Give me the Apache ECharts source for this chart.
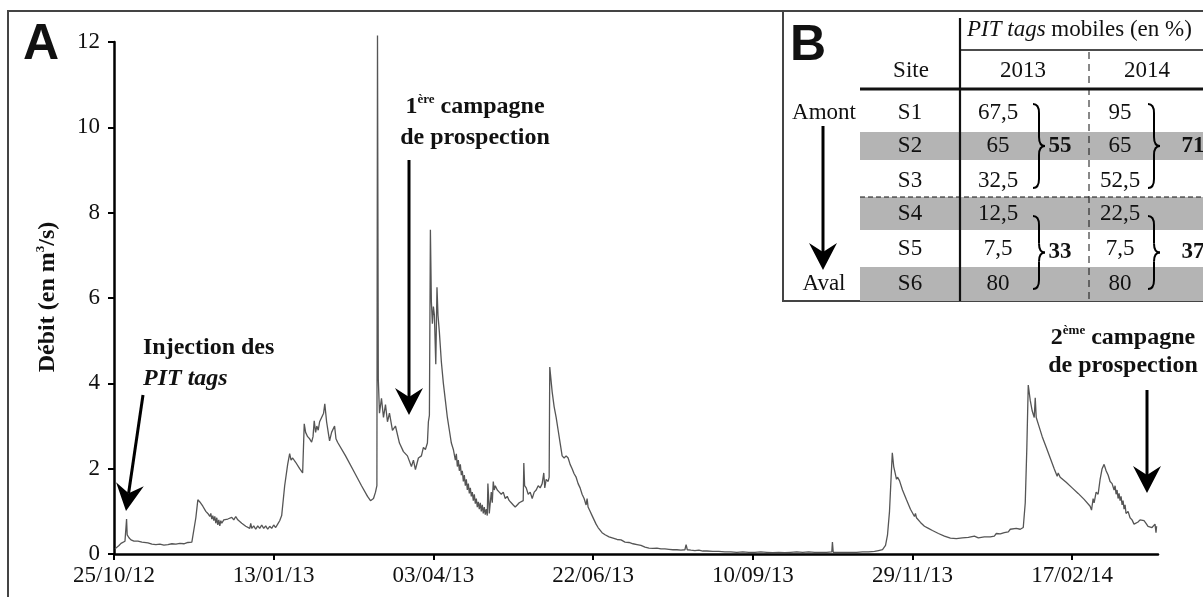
<!DOCTYPE html>
<html>
<head>
<meta charset="utf-8">
<script src="https://cdn.jsdelivr.net/npm/echarts@6/dist/echarts.min.js"></script>
<style>
  html, body { margin: 0; padding: 0; background: #fff; }
  #chart { width: 1203px; height: 597px; }
</style>
</head>
<body>
<div id="chart"></div>
<script>
// débit journalier, jours comptés depuis le 25/10/12
const hiver2012 = [
  [0.5,0.12],[1.5,0.15],[2.5,0.2],[3.5,0.25],[4.5,0.23],[5.5,0.3],[6.0,0.3],[6.3,0.82],[6.6,0.45],
  [7.5,0.38],[8.5,0.33],[10,0.3],[11,0.27],[12,0.3],[13,0.26],[14,0.28],[15,0.25],[17,0.26],[19,0.23],
  [21,0.22],[23,0.23],[25,0.21],[27,0.22],[29,0.24],[31,0.23],[33,0.25],[35,0.24],[37,0.27],[38,0.25],
  [39,0.28],[40,0.3],[41,0.85],[42,1.27],[43,1.22],[44.5,1.12],[46,1.0],[47,0.95],[48,0.88],[48.5,0.95],
  [49,0.82],[49.5,0.9],[50,0.78],[50.5,0.88],[51,0.72],[51.5,0.85],[52,0.68],[52.5,0.8],[53,0.66],
  [53.5,0.78],[54,0.72],[55,0.8],[56,0.77],[57,0.82],[58,0.79],[59,0.86],[60,0.8],[61,0.88],[62,0.8],
  [63,0.76],[64,0.72],[65,0.68],[66,0.65],[67,0.62],[68,0.6],[68.5,0.72],[69,0.6],[70,0.66],[71,0.58],
  [72,0.66],[73,0.6],[74,0.68],[75,0.6],[76,0.66],[77,0.58],[78,0.65],[79,0.6],[80,0.68],[81,0.62],
  [82,0.7],[83,0.78],[84,0.9],[85.5,1.6],[87,2.1],[88,2.35],[88.7,2.2],[89.5,2.25],[91,2.15],[93,2.0],
  [94.5,1.9],[95.3,3.05],[96,2.85],[97,2.75],[98,2.7],[99,2.62],[99.7,2.75],[100.3,3.12],[101,2.85],
  [101.6,3.0],[102.3,2.9],[103,3.1],[104,3.2],[105,3.3],[105.6,3.52],[106.5,3.1],[107.5,2.8],[108,2.65],
  [109,2.85],[110.5,3.0],[111.2,2.7],[112,2.62],[116,2.3],[120,1.95],[124,1.6],[127,1.35],[128.5,1.25],
  [130,1.3],[131,1.45],[131.7,1.6]
];
const crue2013 = [
  [132,12.15],[132.4,4.1],[133,3.3],[134,3.65],[135,3.2],[136,3.5],[137,3.1],[138,3.3],[139.5,2.9],
  [141,3.0],[143,2.6],[145,2.4],[147,2.3],[149,2.05],[150,2.2],[151,1.98],[152.5,2.25],[154,2.3],
  [155,2.5],[156,2.45],[157,2.6],[157.5,3.1],[158,3.25],[158.5,7.6],[159,5.9],[159.5,5.4],[160,5.8],
  [160.5,5.6],[161.2,4.45],[161.8,6.25],[162.3,5.6],[163,5.2],[164,4.5],[165,4.0],[166,3.6],[167,3.2],
  [168,2.9],[169,2.6],[170,2.45],[171,2.2],[171.5,2.35],[172,2.05],[172.5,2.2],[173,1.95],[173.5,2.1],
  [174,1.85],[174.5,1.95],[175,1.7],[175.5,1.85],[176,1.6],[176.5,1.75],[177,1.5],[177.5,1.65],
  [178,1.42],[178.5,1.55],[179,1.35],[179.5,1.45],[180,1.25],[180.5,1.4],[181,1.18],[181.5,1.3],
  [182,1.1],[182.5,1.22],[183,1.05],[183.5,1.2],[184,1.0],[184.5,1.15],[185,0.95],[185.5,1.1],
  [186,0.92],[186.5,1.05],[187,0.9],[187.3,1.65],[187.7,1.3],[188,0.95],[188.5,1.2],[189,1.45],
  [189.5,1.2],[190,1.7],[190.5,1.5],[191,1.6],[192,1.5],[193,1.45],[194,1.4],[195,1.45],[196,1.3],
  [197,1.35],[198,1.25],[199,1.2],[200,1.15],[201,1.1],[202,1.15],[203,1.2],[204,1.18],[205,1.25],
  [205.3,2.13],[205.7,1.6],[206.5,1.55],[207.5,1.4],[208.5,1.45],[209.5,1.3],[210.5,1.45],[211.5,1.5],
  [212.5,1.6],[213.5,1.55],[214.5,1.65],[215.3,1.9],[215.8,1.55],[216.5,1.75],[217.5,1.7],[218,1.8],
  [218.3,4.38],[219.5,3.8],[220.5,3.45],[221.5,3.2],[222.5,2.9],[223.5,2.6],[224.5,2.3],[225.5,2.25],
  [226.5,2.3],[227.5,2.25],[228.5,2.1],[229.5,2.0],[230.5,1.88],[231.5,1.8],[232.5,1.65],[233.5,1.55],
  [234.5,1.4],[235.5,1.3],[236.5,1.15],[237,1.3],[237.5,1.1],[238.5,1.0],[239.5,0.9],[240.5,0.8],
  [241.5,0.7],[242.5,0.62],[243.5,0.56],[244.5,0.5],[246,0.45],[248,0.4]
];
const etiage2013 = [
  [250,0.37],[252,0.34],[254,0.33],[256,0.28],[258,0.27],[260,0.24],[262,0.22],[264,0.2],[266,0.16],
  [268,0.14],[270,0.13],[272,0.14],[274,0.12],[276,0.12],[278,0.11],[280,0.1],[282,0.1],[284,0.09],
  [286,0.1],[286.6,0.22],[287.2,0.1],[289,0.09],[291,0.08],[293,0.09],[295,0.07],[297,0.07],[300,0.06],
  [303,0.06],[306,0.05],[309,0.05],[312,0.04],[315,0.05],[318,0.04],[321,0.04],[324,0.05],[327,0.04],
  [330,0.03],[333,0.04],[336,0.03],[339,0.04],[342,0.05],[345,0.04],[348,0.05],[351,0.04],[354,0.04],
  [357,0.04],[359.6,0.05],[359.9,0.28],[360.3,0.04],[363,0.04],[366,0.04],[369,0.04],[372,0.04],
  [375,0.05],[378,0.05],[381,0.06],[383,0.08],[385,0.1]
];
const hiver2014 = [
  [386.5,0.2],[387.5,0.45],[388.5,1.0],[389.3,1.8],[389.9,2.37],[390.6,2.05],[391.3,1.9],[392,1.75],
  [392.5,1.8],[393.5,1.72],[395,1.5],[397,1.27],[399,1.05],[401,0.88],[401.5,0.95],[402,0.85],
  [404,0.74],[406,0.65],[408,0.6],[410,0.55],[413,0.48],[416,0.42],[419,0.37],[422,0.36],[425,0.38],
  [428,0.39],[431,0.42],[433,0.38],[436,0.4],[439,0.4],[441,0.42],[442,0.48],[444,0.47],[446,0.5],
  [448,0.52],[449,0.58],[450,0.54],[452,0.6],[454,0.58],[455.5,0.62],[456.5,1.2],[457.3,2.5],[458,3.96],
  [459,3.6],[460,3.35],[461,3.2],[461.5,3.66],[462,3.2],[463,3.05],[465,2.75],[467,2.5],[469,2.25],
  [471,2.0],[472.5,1.82],[473,1.9],[474,1.8],[477,1.68],[480,1.55],[483,1.42],[486,1.28],[489,1.12],
  [489.7,1.03],[490.5,1.3],[491,1.2],[492,1.45],[493,1.4],[494,1.75],[495,2.0],[496,2.1],[497,1.95],
  [498,1.85],[499,1.7],[500,1.65],[501,1.5],[501.5,1.6],[502,1.4],[502.5,1.5],[503,1.3],[503.5,1.42],
  [504,1.25],[504.5,1.35],[505,1.15],[505.5,1.25],[506,1.05],[506.5,1.15],[507,0.95],[508,1.0],
  [509,0.85],[510,0.8],[511,0.7],[512,0.72],[513,0.75],[514,0.8],[515,0.82],[516,0.78],[517,0.72],
  [518,0.65],[519,0.68],[520,0.62],[521,0.58],[521.5,0.7],[522,0.5],[522.3,0.65]
];
const tickDays = [0, 80, 160, 240, 320, 400, 480];
const yTicks = [0, 2, 4, 6, 8, 10, 12];

// tableau B
const sites = ['S1', 'S2', 'S3', 'S4', 'S5', 'S6'];
const mobiles2013 = [67.5, 65, 32.5, 12.5, 7.5, 80];
const mobiles2014 = [95, 65, 52.5, 22.5, 7.5, 80];
const totaux2013 = [55, 33];
const totaux2014 = [71, 37];

const SERIF = '"Liberation Serif", "DejaVu Serif", serif';
const SANS = '"Liberation Sans", Arial, sans-serif';

function dayLabel (d) {
  const t = new Date(2012, 9, 25 + d);
  const p = n => (n < 10 ? '0' : '') + n;
  return p(t.getDate()) + '/' + p(t.getMonth() + 1) + '/' + String(t.getFullYear()).slice(2);
}
function fr (v) { return String(v).replace('.', ','); }

function arrow (x1, y1, x2, y2) {
  const len = Math.hypot(x2 - x1, y2 - y1);
  const ux = (x2 - x1) / len, uy = (y2 - y1) / len;
  const nx = -uy, ny = ux;
  const L = 27, W = 14, notch = 9;
  const bx = x2 - ux * L, by = y2 - uy * L;
  const mx = x2 - ux * (L - notch), my = y2 - uy * (L - notch);
  return [
    { type: 'line', z: 10, shape: { x1: x1, y1: y1, x2: mx, y2: my }, style: { stroke: '#000', lineWidth: 3 } },
    { type: 'polygon', z: 10, shape: { points: [[x2, y2], [bx + nx * W, by + ny * W], [mx, my], [bx - nx * W, by - ny * W]] }, style: { fill: '#000' } }
  ];
}

// accolade fermante faite de 4 courbes et 2 traits
function brace (x, y1, y2, w) {
  const ym = (y1 + y2) / 2, r = 9, c = x + w / 2;
  const st = { stroke: '#000', lineWidth: 2, fill: null };
  return [
    { type: 'bezierCurve', z: 10, shape: { x1: x, y1: y1, cpx1: c, cpy1: y1, x2: c, y2: y1 + r }, style: st },
    { type: 'line', z: 10, shape: { x1: c, y1: y1 + r, x2: c, y2: ym - r }, style: st },
    { type: 'bezierCurve', z: 10, shape: { x1: c, y1: ym - r, cpx1: c, cpy1: ym, x2: x + w, y2: ym }, style: st },
    { type: 'bezierCurve', z: 10, shape: { x1: x + w, y1: ym, cpx1: c, cpy1: ym, x2: c, y2: ym + r }, style: st },
    { type: 'line', z: 10, shape: { x1: c, y1: ym + r, x2: c, y2: y2 - r }, style: st },
    { type: 'bezierCurve', z: 10, shape: { x1: c, y1: y2 - r, cpx1: c, cpy1: y2, x2: x, y2: y2 }, style: st }
  ];
}

function txt (x, y, text, opts) {
  return {
    type: 'text', x: x, y: y, z: 10,
    style: Object.assign({
      text: text, fill: '#111', fontFamily: SERIF, fontSize: 23,
      textAlign: 'center', textVerticalAlign: 'middle'
    }, opts || {})
  };
}

const bold24 = { fill: '#111', fontFamily: SERIF, fontSize: 24, fontWeight: 'bold', lineHeight: 28 };
const sup = { fill: '#111', fontFamily: SERIF, fontSize: 13, fontWeight: 'bold', verticalAlign: 'top', lineHeight: 14 };

const rowY = [113, 146, 181, 214, 249, 284];
const greyBands = [[132, 160], [197, 230], [267, 301]];

let graphics = [
  // cadre général
  { type: 'rect', z: 1, shape: { x: 8, y: 11, width: 1300, height: 700 }, style: { fill: null, stroke: '#444', lineWidth: 2 } },
  txt(41, 45, 'A', { fontFamily: SANS, fontWeight: 'bold', fontSize: 50 }),
  {
    type: 'text', x: 48, y: 297, rotation: Math.PI / 2, z: 10,
    style: { text: '{b|Débit (en m}{s|3}{b|/s)}', textAlign: 'center', textVerticalAlign: 'middle', rich: { b: bold24, s: sup } }
  },
  txt(143, 348, 'Injection des', { fontSize: 24, fontWeight: 'bold', textAlign: 'left' }),
  txt(143, 379, 'PIT tags', { fontSize: 24, fontWeight: 'bold', fontStyle: 'italic', textAlign: 'left' }),
  {
    type: 'text', x: 475, y: 107, z: 10,
    style: { text: '{b|1}{s|ère}{b| campagne}', textAlign: 'center', textVerticalAlign: 'middle', rich: { b: bold24, s: sup } }
  },
  txt(475, 138, 'de prospection', { fontSize: 24, fontWeight: 'bold' }),
  {
    type: 'text', x: 1123, y: 338, z: 10,
    style: { text: '{b|2}{s|ème}{b| campagne}', textAlign: 'center', textVerticalAlign: 'middle', rich: { b: bold24, s: sup } }
  },
  txt(1123, 366, 'de prospection', { fontSize: 24, fontWeight: 'bold' })
];
graphics = graphics.concat(arrow(143, 395, 126, 511), arrow(409, 160, 409, 415), arrow(1147, 390, 1147, 493));

// encart B
graphics.push({ type: 'rect', z: 5, shape: { x: 783, y: 11, width: 430, height: 290 }, style: { fill: '#fff', stroke: '#444', lineWidth: 2 } });
greyBands.forEach(b => {
  graphics.push({ type: 'rect', z: 6, shape: { x: 860, y: b[0], width: 350, height: b[1] - b[0] }, style: { fill: '#b4b4b4' } });
});
graphics.push(
  { type: 'line', z: 7, shape: { x1: 960, y1: 18, x2: 960, y2: 301 }, style: { stroke: '#111', lineWidth: 2.2 } },
  { type: 'line', z: 7, shape: { x1: 960, y1: 50, x2: 1210, y2: 50 }, style: { stroke: '#111', lineWidth: 1.5 } },
  { type: 'line', z: 7, shape: { x1: 860, y1: 89, x2: 1210, y2: 89 }, style: { stroke: '#111', lineWidth: 3 } },
  { type: 'line', z: 7, shape: { x1: 1089, y1: 52, x2: 1089, y2: 301 }, style: { stroke: '#111', lineWidth: 1, lineDash: [7, 5] } },
  { type: 'line', z: 7, shape: { x1: 860, y1: 197, x2: 1210, y2: 197 }, style: { stroke: '#111', lineWidth: 1, lineDash: [5, 3] } },
  txt(808, 46, 'B', { fontFamily: SANS, fontWeight: 'bold', fontSize: 50 }),
  txt(911, 71, 'Site'),
  txt(1023, 71, '2013'),
  txt(1147, 71, '2014'),
  {
    type: 'text', x: 967, y: 30, z: 10,
    style: {
      text: '{i|PIT tags}{r| mobiles (en %)}', textAlign: 'left', textVerticalAlign: 'middle',
      rich: {
        i: { fill: '#111', fontFamily: SERIF, fontSize: 23, fontStyle: 'italic' },
        r: { fill: '#111', fontFamily: SERIF, fontSize: 23 }
      }
    }
  },
  txt(824, 113, 'Amont'),
  txt(824, 284, 'Aval')
);
graphics = graphics.concat(arrow(823, 126, 823, 270));
sites.forEach((s, i) => {
  graphics.push(txt(910, rowY[i], s));
  graphics.push(txt(998, rowY[i], fr(mobiles2013[i])));
  graphics.push(txt(1120, rowY[i], fr(mobiles2014[i])));
});
[[104, 188], [216, 289]].forEach((span, k) => {
  graphics = graphics.concat(brace(1033, span[0], span[1], 12), brace(1148, span[0], span[1], 12));
  const ym = (span[0] + span[1]) / 2;
  graphics.push(txt(1060, ym, String(totaux2013[k]), { fontWeight: 'bold' }));
  graphics.push(txt(1193, ym, String(totaux2014[k]), { fontWeight: 'bold' }));
});

const chart = echarts.init(document.getElementById('chart'), null, { renderer: 'canvas' });
chart.setOption({
  animation: false,
  backgroundColor: '#fff',
  grid: { left: 114, right: 45, top: 42, bottom: 43 },
  xAxis: {
    type: 'value',
    min: 0,
    max: 523,
    interval: 80,
    splitLine: { show: false },
    axisLine: { lineStyle: { color: '#000', width: 2.5 } },
    axisTick: { show: true, length: 6, lineStyle: { color: '#000', width: 2 }, customValues: tickDays },
    axisLabel: {
      customValues: tickDays,
      margin: 10,
      color: '#111',
      fontFamily: SERIF,
      fontSize: 23,
      formatter: v => dayLabel(v)
    }
  },
  yAxis: {
    type: 'value',
    min: 0,
    max: 12,
    interval: 2,
    splitLine: { show: false },
    axisLine: { show: true, lineStyle: { color: '#000', width: 2.5 } },
    axisTick: { show: true, length: 6, lineStyle: { color: '#000', width: 2 }, customValues: yTicks },
    axisLabel: { customValues: yTicks, margin: 14, color: '#111', fontFamily: SERIF, fontSize: 23 }
  },
  series: [{
    type: 'line',
    data: hiver2012.concat(crue2013, etiage2013, hiver2014),
    showSymbol: false,
    clip: false,
    lineStyle: { color: '#555', width: 1.3 }
  }],
  graphic: graphics
});
</script>
</body>
</html>
